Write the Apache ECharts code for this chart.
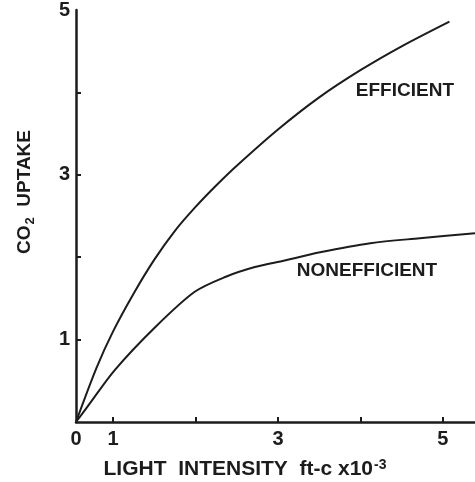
<!DOCTYPE html>
<html>
<head>
<meta charset="utf-8">
<script src="https://cdn.jsdelivr.net/npm/echarts@6/dist/echarts.min.js"></script>
<style>
  html, body { margin: 0; padding: 0; background: #fff; }
  #chart { width: 475px; height: 482px; }
</style>
</head>
<body>
<div id="chart"></div>
<script>
// Light-response curves of CO2 uptake for efficient and nonefficient plants.
// The horizontal axis starts at its drawn origin (labelled 0) just left of tick 1.
const X_ORIGIN = 0.55;
const X_END = 5.39;

const efficientX = [0.55, 0.8, 1.0, 1.25, 1.5, 1.75, 2.0, 2.25, 2.5, 3.0, 3.5, 4.0, 4.5, 5.08];
const efficientY = [0, 0.66, 1.10, 1.56, 1.97, 2.32, 2.61, 2.87, 3.11, 3.55, 3.94, 4.27, 4.56, 4.86];

const nonefficientX = [0.55, 0.685, 1.02, 1.51, 1.99, 2.36, 2.72, 3.08, 3.51, 4.12, 4.72, 5.39];
const nonefficientY = [0, 0.18, 0.63, 1.15, 1.58, 1.76, 1.88, 1.96, 2.06, 2.17, 2.23, 2.29];

const xTickValues = [1, 2, 3, 4, 5];
const xLabelValues = [X_ORIGIN, 1, 3, 5];
const yTickValues = [1, 2, 3, 4];
const yLabelValues = [1, 3, 5];

// Curve names placed beside their lines, in data units.
const efficientLabelAt = [4.54, 4.02];
const nonefficientLabelAt = [4.08, 1.84];

const INK = '#1c1c1c';
const FONT = '"Liberation Sans", Arial, sans-serif';

const pairs = (xs, ys) => xs.map((x, i) => [x, ys[i]]);

const curveLabel = (text, coord) => ({
  symbol: 'circle',
  symbolSize: 0,
  silent: true,
  label: {
    show: true,
    position: 'inside',
    formatter: text,
    color: INK,
    fontFamily: FONT,
    fontWeight: 'bold',
    fontSize: 19
  },
  data: [{ coord: coord }]
});

const chart = echarts.init(document.getElementById('chart'));
chart.setOption({
  animation: false,
  backgroundColor: '#fff',
  grid: { left: 76, right: 0, top: 10, bottom: 60, containLabel: false },
  xAxis: {
    type: 'value',
    min: X_ORIGIN,
    max: X_END,
    axisLine: { show: true, onZero: false, lineStyle: { color: INK, width: 2.5 } },
    axisTick: {
      show: true, inside: true, length: 5,
      customValues: xTickValues,
      lineStyle: { color: INK, width: 2 }
    },
    axisLabel: {
      customValues: xLabelValues,
      formatter: v => (Math.abs(v - X_ORIGIN) < 1e-6 ? '0' : String(v)),
      color: INK, fontFamily: FONT, fontWeight: 'bold', fontSize: 20, margin: 7
    },
    splitLine: { show: false }
  },
  yAxis: {
    type: 'value',
    min: 0,
    max: 5,
    axisLine: { show: true, onZero: false, lineStyle: { color: INK, width: 2.5 } },
    axisTick: {
      show: true, inside: true, length: 5,
      customValues: yTickValues,
      lineStyle: { color: INK, width: 2 }
    },
    axisLabel: {
      customValues: yLabelValues,
      color: INK, fontFamily: FONT, fontWeight: 'bold', fontSize: 20, margin: 6
    },
    splitLine: { show: false }
  },
  graphic: [
    {
      type: 'text',
      x: 245, y: 468,
      style: {
        text: '{m|LIGHT  INTENSITY  ft-c x10}{s|-3}',
        align: 'center',
        verticalAlign: 'middle',
        fill: INK,
        rich: {
          m: { fontFamily: FONT, fontWeight: 'bold', fontSize: 21, fill: INK, lineHeight: 24, verticalAlign: 'bottom' },
          s: { fontFamily: FONT, fontWeight: 'bold', fontSize: 14, fill: INK, lineHeight: 14, verticalAlign: 'top', padding: [2, 0, 0, 1] }
        }
      }
    },
    {
      type: 'text',
      x: 25, y: 192,
      rotation: Math.PI / 2,
      style: {
        text: '{m|CO}{b|2}{m|  UPTAKE}',
        align: 'center',
        verticalAlign: 'middle',
        fill: INK,
        rich: {
          m: { fontFamily: FONT, fontWeight: 'bold', fontSize: 19, fill: INK, lineHeight: 26 },
          b: { fontFamily: FONT, fontWeight: 'bold', fontSize: 13, fill: INK, lineHeight: 26, padding: [10, 0, 0, 1] }
        }
      }
    }
  ],
  series: [
    {
      name: 'EFFICIENT',
      type: 'line',
      data: pairs(efficientX, efficientY),
      smooth: 0.3,
      showSymbol: false,
      lineStyle: { color: INK, width: 2 },
      markPoint: curveLabel('EFFICIENT', efficientLabelAt)
    },
    {
      name: 'NONEFFICIENT',
      type: 'line',
      data: pairs(nonefficientX, nonefficientY),
      smooth: 0.3,
      showSymbol: false,
      lineStyle: { color: INK, width: 2 },
      markPoint: curveLabel('NONEFFICIENT', nonefficientLabelAt)
    }
  ]
});
</script>
</body>
</html>
